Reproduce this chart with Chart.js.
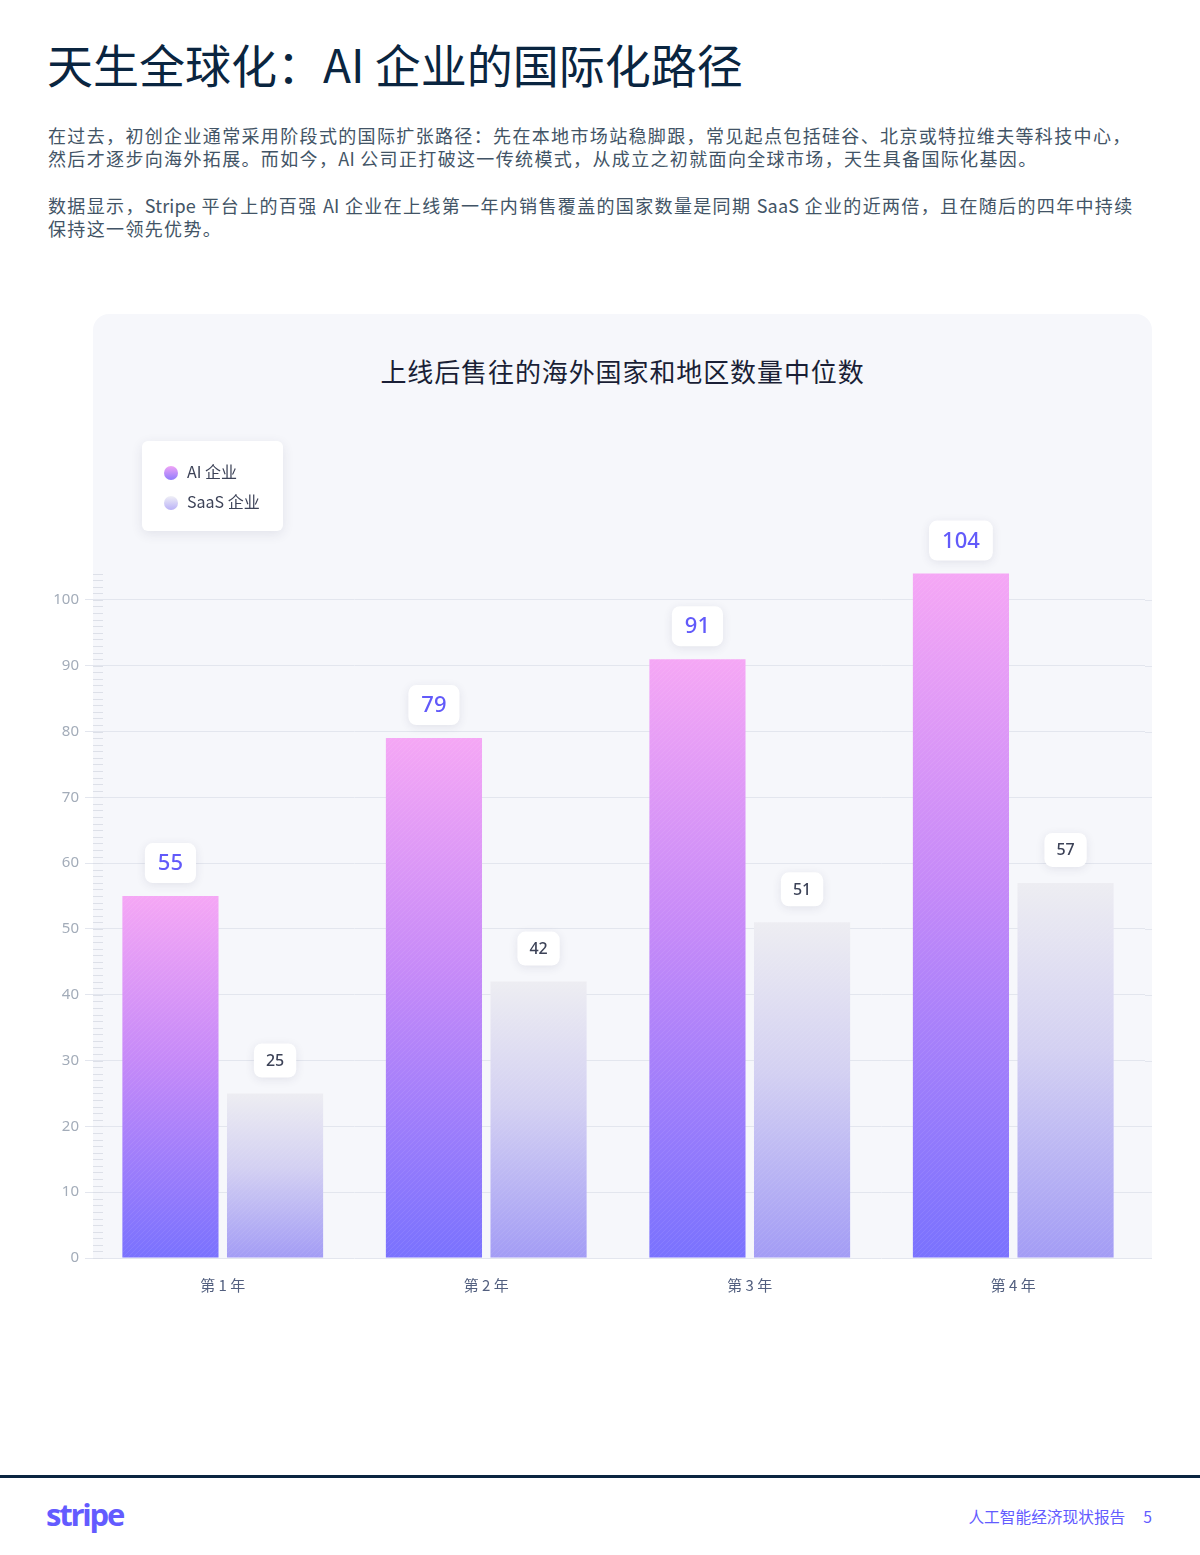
<!DOCTYPE html>
<html lang="zh-CN">
<head>
<meta charset="utf-8">
<script src="https://cdn.jsdelivr.net/npm/chart.js@4.4.1/dist/chart.umd.min.js"></script>
<style>
  body { margin: 0; width: 1200px; height: 1555px; background: #fff; position: relative; overflow: hidden;
         font-family: "Noto Sans CJK SC", "Noto Sans", sans-serif; }
  .title { position: absolute; left: 47px; top: 30px; font-size: 46px; font-weight: 400; color: #0a2540; margin: 0; white-space: nowrap; }
  .para { position: absolute; left: 48px; font-size: 18px; line-height: 23px; color: #425466; white-space: nowrap; letter-spacing: 1.35px; }
  .para .l { letter-spacing: 0.2px; }
  .card { position: absolute; left: 93px; top: 314px; width: 1059px; height: 944px; background: #f6f7fb; border-radius: 16px 16px 0 0; }
  .ctitle { position: absolute; left: 93px; width: 1059px; top: 352px; text-align: center; font-size: 26px; color: #1a1f36; letter-spacing: 0.9px; }
  #wrap { position: absolute; left: 0; top: 300px; width: 1200px; height: 1020px; }
  .legend { position: absolute; left: 142px; top: 441px; width: 141px; height: 90px; background: #fff; border-radius: 6px;
            box-shadow: 0 3px 12px rgba(50, 50, 93, 0.1); }
  .item { position: absolute; left: 22px; font-size: 16px; color: #3c4257; white-space: nowrap; }
  .dot { display: inline-block; width: 14px; height: 14px; border-radius: 50%; vertical-align: -2px; margin-right: 9px; }
  .foot { position: absolute; left: 0; top: 1475px; width: 1200px; height: 3px; background: #0a2540; }
  .logo { position: absolute; left: 46px; top: 1493px; font-family: "Open Sans", sans-serif; font-size: 31px; font-weight: 700; color: #635bff; letter-spacing: -2.2px; }
  .report { position: absolute; right: 48px; top: 1505px; font-size: 15.7px; color: #635bff; }
</style>
</head>
<body>
<h1 class="title">天生全球化：AI 企业的国际化路径</h1>
<div class="para" style="top:124px">在过去，初创企业通常采用阶段式的国际扩张路径：先在本地市场站稳脚跟，常见起点包括硅谷、北京或特拉维夫等科技中心，<br>然后才逐步向海外拓展。而如今，<span class="l">AI</span> 公司正打破这一传统模式，从成立之初就面向全球市场，天生具备国际化基因。</div>
<div class="para" style="top:194px">数据显示，<span class="l">Stripe</span> 平台上的百强 <span class="l">AI</span> 企业在上线第一年内销售覆盖的国家数量是同期 <span class="l">SaaS</span> 企业的近两倍，且在随后的四年中持续<br>保持这一领先优势。</div>

<div class="card"></div>
<div class="ctitle">上线后售往的海外国家和地区数量中位数</div>
<div id="wrap"><canvas id="chart"></canvas></div>
<div class="legend">
  <div class="item" style="top:18px"><span class="dot" style="background:linear-gradient(#f0a4f6,#8f7cfc)"></span>AI 企业</div>
  <div class="item" style="top:48px"><span class="dot" style="background:linear-gradient(#f0f0f6,#b9b1f7)"></span>SaaS 企业</div>
</div>

<div class="foot"></div>
<div class="logo">stripe</div>
<div class="report">人工智能经济现状报告<span style="margin-left:18px">5</span></div>

<script>
const years = ["第 1 年", "第 2 年", "第 3 年", "第 4 年"];
const aiValues = [55, 79, 91, 104];
const saasValues = [25, 42, 51, 57];
const yTicks = [0, 10, 20, 30, 40, 50, 60, 70, 80, 90, 100];

function barGradient(stops, fallback) {
  return function (ctx) {
    const chart = ctx.chart;
    if (!chart.chartArea || ctx.raw === undefined) return fallback;
    const y = chart.scales.y;
    const top = y.getPixelForValue(ctx.raw);
    const bot = y.getPixelForValue(0);
    const g = chart.ctx.createLinearGradient(0, top, 0, bot);
    stops.forEach(function (s) { g.addColorStop(s[0], s[1]); });
    return g;
  };
}

// fine texture on the bars
const hatch = document.createElement("canvas");
hatch.width = 5; hatch.height = 5;
const hc = hatch.getContext("2d");
hc.strokeStyle = "rgba(255,255,255,0.08)";
hc.lineWidth = 1;
hc.beginPath(); hc.moveTo(0, 5); hc.lineTo(5, 0); hc.stroke();

const minorTicks = {
  id: "minorTicks",
  beforeDatasetsDraw(chart) {
    const c = chart.ctx, y = chart.scales.y;
    c.save();
    c.strokeStyle = "#dde0e8";
    c.lineWidth = 1;
    for (let v = 0; v <= 104; v++) {
      const py = Math.round(y.getPixelForValue(v)) + 0.5;
      c.beginPath(); c.moveTo(93, py); c.lineTo(103, py); c.stroke();
    }
    // grid runs on to the card edge
    c.strokeStyle = "#e3e6ee";
    yTicks.forEach(function (v) {
      const py = Math.round(y.getPixelForValue(v)) + 0.5;
      c.beginPath(); c.moveTo(chart.chartArea.right, py); c.lineTo(1152, py); c.stroke();
    });
    c.restore();
  }
};

function roundRect(c, x, y, w, h, r) {
  c.beginPath();
  c.moveTo(x + r, y);
  c.arcTo(x + w, y, x + w, y + h, r);
  c.arcTo(x + w, y + h, x, y + h, r);
  c.arcTo(x, y + h, x, y, r);
  c.arcTo(x, y, x + w, y, r);
  c.closePath();
}

const valueLabels = {
  id: "valueLabels",
  afterDatasetsDraw(chart) {
    const c = chart.ctx;
    const pattern = c.createPattern(hatch, "repeat");
    chart.data.datasets.forEach(function (ds, i) {
      const meta = chart.getDatasetMeta(i);
      meta.data.forEach(function (bar, j) {
        c.save();
        c.fillStyle = pattern;
        c.fillRect(bar.x - bar.width / 2, bar.y, bar.width, bar.base - bar.y);
        c.restore();

        const big = i === 0;
        const txt = String(ds.data[j]);
        c.save();
        c.font = (big ? "500 22px" : "500 16px") + ' "Noto Sans", "Noto Sans CJK SC", sans-serif';
        const tw = c.measureText(txt).width;
        const w = tw + (big ? 26 : 24);
        const h = big ? 40 : 34;
        const bx = bar.x - w / 2;
        const by = bar.y - (big ? 13 : 16) - h;
        c.shadowColor = "rgba(50,50,93,0.10)";
        c.shadowBlur = 10;
        c.shadowOffsetY = 2;
        c.fillStyle = "#ffffff";
        roundRect(c, bx, by, w, h, 8);
        c.fill();
        c.shadowColor = "transparent";
        c.fillStyle = big ? "#625afa" : "#3c4257";
        c.textAlign = "center";
        c.textBaseline = "middle";
        c.fillText(txt, bar.x, by + h / 2 + 1);
        c.restore();
      });
    });
  }
};

const ctx = document.getElementById("chart").getContext("2d");
const chart = new Chart(ctx, {
  type: "bar",
  data: {
    labels: years,
    datasets: [
      {
        label: "AI 企业",
        data: aiValues,
        backgroundColor: barGradient([[0, "#f5a7f5"], [0.45, "#c68af8"], [1, "#7a72fe"]], "#c68af8"),
        categoryPercentage: 0.794,
        barPercentage: 0.919,
      },
      {
        label: "SaaS 企业",
        data: saasValues,
        backgroundColor: barGradient([[0, "#ededf2"], [0.45, "#d3d0f2"], [1, "#a39cf5"]], "#d3d0f2"),
        categoryPercentage: 0.794,
        barPercentage: 0.919,
      },
    ],
  },
  options: {
    responsive: true,
    maintainAspectRatio: false,
    animation: false,
    layout: { padding: { top: 267, right: 55, left: 0, bottom: 0 } },
    plugins: {
      legend: { display: false },
      tooltip: { enabled: false },
    },
    scales: {
      x: {
        grid: { display: false },
        border: { display: false },
        ticks: {
          padding: 10,
          color: "#525f7f",
          font: { size: 15, family: '"Noto Sans CJK SC", sans-serif' },
        },
        afterFit(scale) { scale.height = 62; },
      },
      y: {
        min: 0,
        max: 105,
        border: { display: false },
        grid: { color: "#e3e6ee", tickLength: 6 },
        ticks: {
          stepSize: 10,
          padding: 6,
          color: "#a3acb9",
          font: { size: 15, family: '"Noto Sans", sans-serif' },
        },
        afterBuildTicks(scale) {
          scale.ticks = yTicks.map(function (v) { return { value: v }; });
        },
        afterFit(scale) { scale.width = 91; },
      },
    },
  },
  plugins: [minorTicks, valueLabels],
});
</script>
</body>
</html>
